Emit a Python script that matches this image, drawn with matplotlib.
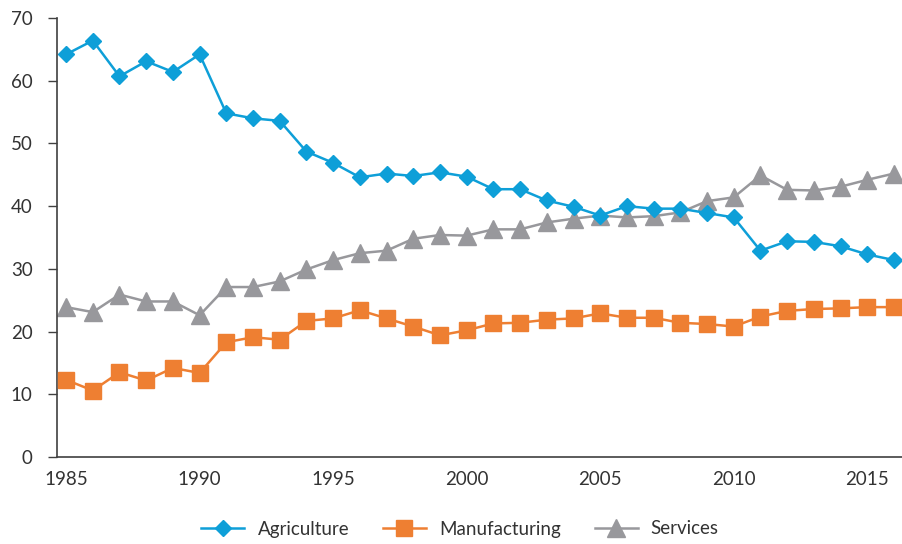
import matplotlib
matplotlib.use("Agg")
import matplotlib.pyplot as plt

years = list(range(1985, 2017))

agriculture = [64.2, 66.4, 60.7, 63.1, 61.4, 64.2, 54.8, 54.0, 53.6, 48.7,
               46.9, 44.6, 45.2, 44.8, 45.4, 44.7, 42.7, 42.7, 40.9, 39.9,
               38.5, 40.0, 39.6, 39.6, 38.9, 38.2, 32.9, 34.4, 34.3, 33.6,
               32.3, 31.4]
manufacturing = [12.3, 10.6, 13.5, 12.2, 14.2, 13.4, 18.3, 19.1, 18.7, 21.7,
                 22.1, 23.4, 22.1, 20.8, 19.4, 20.2, 21.3, 21.4, 21.9, 22.1,
                 22.9, 22.2, 22.2, 21.4, 21.2, 20.8, 22.4, 23.3, 23.6, 23.7,
                 23.9, 23.9]
services = [23.9, 23.1, 25.9, 24.8, 24.8, 22.6, 27.1, 27.1, 28.0, 29.9,
            31.4, 32.5, 32.9, 34.8, 35.4, 35.3, 36.3, 36.3, 37.4, 38.0,
            38.5, 38.2, 38.4, 39.0, 40.8, 41.4, 44.9, 42.6, 42.5, 43.1,
            44.2, 45.2]

x_ticks = [1985, 1990, 1995, 2000, 2005, 2010, 2015]
y_ticks = [0, 10, 20, 30, 40, 50, 60, 70]

plt.rcParams["font.family"] = ["Lato", "DejaVu Sans"]
text_color = "#333333"
axis_color = "#404040"

fig = plt.figure(figsize=(9.02, 5.44), dpi=100)
ax = fig.add_axes([57 / 902, 87 / 544, 845 / 902, 439 / 544])

ax.plot(years, agriculture, color="#0E9FD8", lw=1.8, marker="D", ms=8.5,
        label="Agriculture", zorder=4)
ax.plot(years, manufacturing, color="#EE7F32", lw=1.8, marker="s", ms=12,
        label="Manufacturing", zorder=3)
ax.plot(years, services, color="#98989C", lw=1.8, marker="^", ms=12.5,
        label="Services", zorder=2)

ax.set_xlim(1984.66, 2016.3)
ax.set_ylim(0, 70)
ax.set_xticks(x_ticks)
ax.set_yticks(y_ticks)

for side in ("top", "right"):
    ax.spines[side].set_visible(False)
for side in ("left", "bottom"):
    ax.spines[side].set_color(axis_color)
    ax.spines[side].set_linewidth(1.2)

ax.tick_params(axis="y", direction="out", length=6.5, width=1.0,
               color=axis_color, pad=11, labelsize=13.5, labelcolor=text_color)
ax.tick_params(axis="x", length=0, pad=10, labelsize=13.5,
               labelcolor=text_color)

leg = fig.legend(loc="center", bbox_to_anchor=(460 / 902, 1 - 529 / 544),
                 ncol=3, frameon=False, fontsize=13.5, handlelength=2.3,
                 handletextpad=0.7, columnspacing=1.8)
for t in leg.get_texts():
    t.set_color(text_color)

fig.savefig("out.png", dpi=100)
